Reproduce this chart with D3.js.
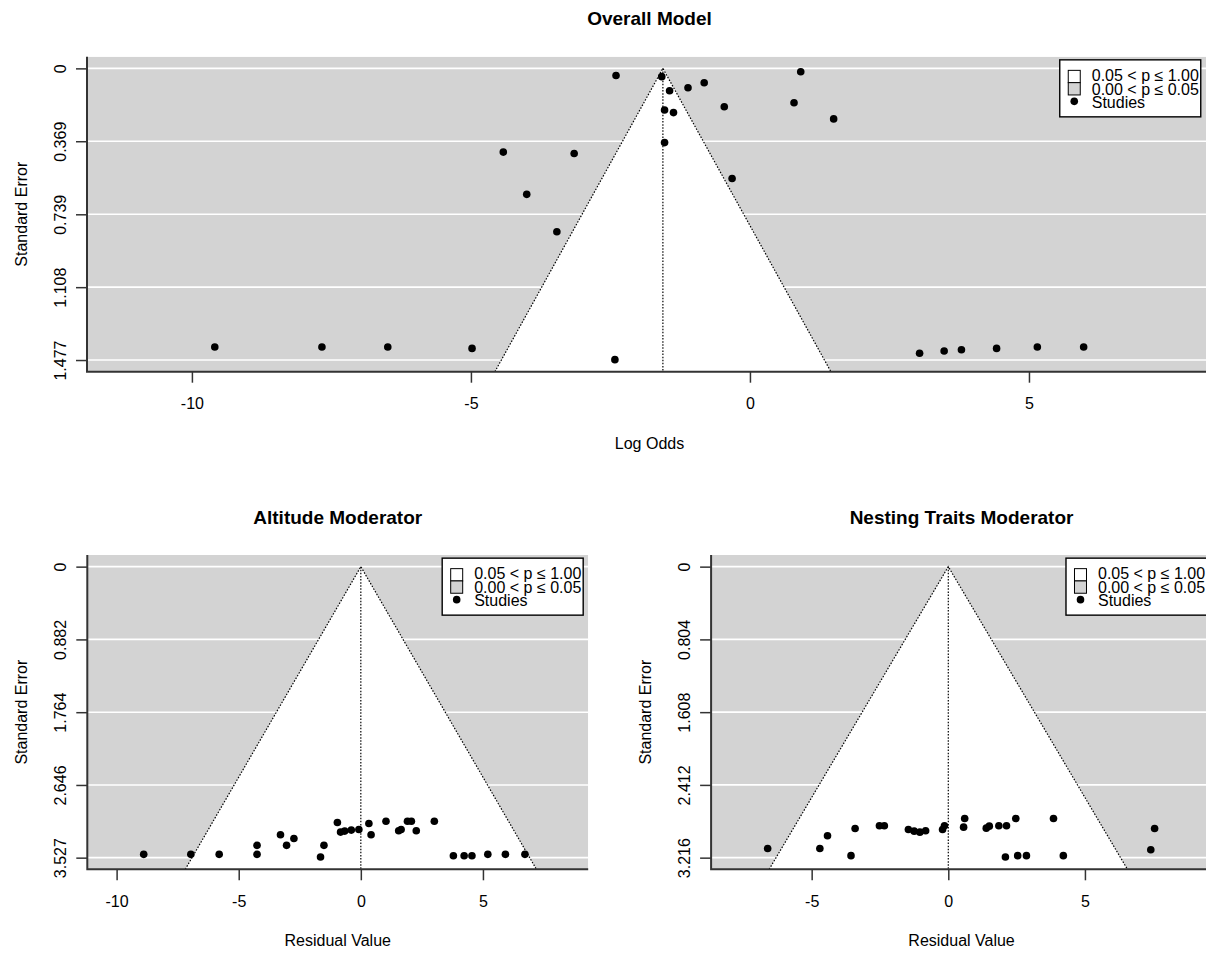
<!DOCTYPE html>
<html>
<head>
<meta charset="utf-8">
<script src="https://cdn.jsdelivr.net/npm/d3@7"></script>
<style>
    body { margin: 0; background: #fff; }
    text { font-family: "Liberation Sans", Arial, sans-serif; fill: #000; }
</style>
</head>
<body>
<div id="chart"></div>
<script>
//
// Funnel plots (overall model + two moderators)
//

// Overall model: log odds vs standard error
var overallLogOdds = [-9.59, -7.67, -6.49, -4.98, -4.42, -3.15, -4.00, -3.46, -2.40, -1.58,
                      -1.44, -1.11, -0.82, -1.53, -1.37, -0.46, -1.53, -0.32, 0.91, 0.79,
                      1.50, -2.42, 3.04, 3.48, 3.79, 4.42, 5.15, 5.98];
var overallSE = [1.411, 1.411, 1.411, 1.418, 0.424, 0.431, 0.638, 0.827, 0.036, 0.042,
                 0.113, 0.098, 0.073, 0.211, 0.224, 0.194, 0.376, 0.558, 0.017, 0.174,
                 0.256, 1.475, 1.443, 1.431, 1.425, 1.418, 1.411, 1.411];
var overallEstimate = -1.56;
var overallXTicks = [-10, -5, 0, 5];
var overallYTicks = [0, 0.369, 0.739, 1.108, 1.477];
var overallXLim = [-11.88, 8.28];

// Altitude moderator: residual value vs standard error
var altitudeResid = [-8.89, -6.96, -5.80, -4.25, -4.25, -3.29, -3.04, -2.74, -1.65, -1.51,
                     -0.96, -0.83, -0.66, -0.39, -0.08, 0.33, 0.42, 1.03, 1.55, 1.65,
                     1.91, 2.07, 2.27, 3.01, 3.79, 4.23, 4.55, 5.20, 5.92, 6.72];
var altitudeSE = [3.487, 3.487, 3.487, 3.487, 3.378, 3.250, 3.378, 3.294, 3.519, 3.378,
                  3.101, 3.217, 3.205, 3.193, 3.185, 3.113, 3.250, 3.085, 3.201, 3.185,
                  3.085, 3.085, 3.201, 3.085, 3.503, 3.503, 3.503, 3.487, 3.487, 3.487];
var altitudeXTicks = [-10, -5, 0, 5];
var altitudeYTicks = [0, 0.882, 1.764, 2.646, 3.527];
var altitudeXLim = [-11.20, 9.31];

// Nesting traits moderator: residual value vs standard error
var nestingResid = [-6.61, -4.70, -4.42, -3.56, -3.41, -2.52, -2.34, -1.46, -1.25, -1.04,
                    -0.83, -0.21, -0.14, 0.56, 0.60, 1.39, 1.50, 1.85, 2.13, 2.09,
                    2.47, 2.54, 2.86, 3.85, 4.21, 7.41, 7.55];
var nestingSE = [3.114, 3.114, 2.974, 3.194, 2.894, 2.864, 2.864, 2.905, 2.923, 2.934,
                 2.919, 2.905, 2.864, 2.879, 2.784, 2.890, 2.868, 2.864, 2.864, 3.209,
                 2.784, 3.194, 3.194, 2.784, 3.194, 3.128, 2.894];
var nestingXTicks = [-5, 0, 5];
var nestingYTicks = [0, 0.804, 1.608, 2.412, 3.216];
var nestingXLim = [-8.68, 9.65];

var legendLabels = ["0.05 < p \u2264 1.00", "0.00 < p \u2264 0.05", "Studies"];
var legendFills = ["#ffffff", "#d3d3d3"];

var zCrit = 1.96;
var width = 1206, height = 953;

var svg = d3.select("#chart")
    .append("svg")
    .attr("width", width)
    .attr("height", height);

svg.append("rect").attr("width", width).attr("height", height).attr("fill", "#fff");

function drawFunnel(id, opt) {
    var x0 = opt.box[0], y0 = opt.box[1], x1 = opt.box[2], y1 = opt.box[3];
    var yMax = d3.max(opt.yTicks);

    var x = d3.scaleLinear().domain(opt.xLim).range([x0, x1]);
    var y = d3.scaleLinear().domain([-0.04 * yMax, yMax * 1.04]).range([y0, y1]);
    var seBottom = y.domain()[1];

    var g = svg.append("g").attr("id", id);

    g.append("clipPath")
        .attr("id", id + "Clip")
        .append("rect")
        .attr("x", x0).attr("y", y0)
        .attr("width", x1 - x0).attr("height", y1 - y0);

    var plot = g.append("g").attr("clip-path", "url(#" + id + "Clip)");

    plot.append("rect")
        .attr("x", x0).attr("y", y0)
        .attr("width", x1 - x0).attr("height", y1 - y0)
        .attr("fill", "#d3d3d3");

    plot.selectAll(".hline")
        .data(opt.yTicks)
        .enter()
        .append("line")
        .attr("x1", x0).attr("x2", x1)
        .attr("y1", function (d) { return y(d); })
        .attr("y2", function (d) { return y(d); })
        .attr("stroke", "#fff")
        .attr("stroke-width", 1.6);

    // white region of the funnel (p > 0.05)
    var tri = [[opt.center - zCrit * seBottom, seBottom], [opt.center, 0], [opt.center + zCrit * seBottom, seBottom]];
    var line = d3.line()
        .x(function (d) { return x(d[0]); })
        .y(function (d) { return y(d[1]); });

    plot.append("path")
        .attr("d", line(tri) + "Z")
        .attr("fill", "#fff");

    plot.append("path")
        .attr("d", line(tri))
        .attr("fill", "none")
        .attr("stroke", "#000")
        .attr("stroke-width", 1.2)
        .attr("stroke-dasharray", "1.5,1.6");

    plot.append("path")
        .attr("d", line([[opt.center, 0], [opt.center, seBottom]]))
        .attr("fill", "none")
        .attr("stroke", "#000")
        .attr("stroke-width", 1.2)
        .attr("stroke-dasharray", "1.5,1.6");

    plot.selectAll(".study")
        .data(opt.xs)
        .enter()
        .append("circle")
        .attr("cx", function (d) { return x(d); })
        .attr("cy", function (d, i) { return y(opt.ses[i]); })
        .attr("r", 3.8)
        .attr("fill", "#000");

    // axes
    var yAxis = g.append("g")
        .attr("transform", "translate(" + x0 + ",0)")
        .call(d3.axisLeft(y).tickValues(opt.yTicks).tickSize(11).tickFormat(function (d) { return String(d); }));
    var xAxis = g.append("g")
        .attr("transform", "translate(0," + y1 + ")")
        .call(d3.axisBottom(x).tickValues(opt.xTicks).tickSize(11).tickFormat(function (d) { return String(d); }));

    g.selectAll(".domain").remove();
    g.selectAll(".tick line").attr("stroke", "#333").attr("stroke-width", 1.5);

    yAxis.selectAll("text")
        .attr("x", null).attr("dy", null)
        .attr("text-anchor", "middle")
        .attr("transform", "translate(-21.5,0) rotate(-90)")
        .style("font-size", "16px");

    xAxis.selectAll("text")
        .attr("y", 37.5).attr("dy", null)
        .style("font-size", "16px");

    g.append("path")
        .attr("d", "M" + x0 + "," + y0 + "V" + y1 + "H" + x1)
        .attr("fill", "none")
        .attr("stroke", "#333")
        .attr("stroke-width", 2);

    // labels
    g.append("text")
        .attr("x", (x0 + x1) / 2).attr("y", opt.titleY)
        .attr("text-anchor", "middle")
        .style("font-size", "19px")
        .style("font-weight", "bold")
        .text(opt.title);

    g.append("text")
        .attr("x", (x0 + x1) / 2).attr("y", y1 + 77)
        .attr("text-anchor", "middle")
        .style("font-size", "16px")
        .text(opt.xLabel);

    g.append("text")
        .attr("transform", "translate(" + (x0 - 60.5) + "," + ((y0 + y1) / 2) + ") rotate(-90)")
        .attr("text-anchor", "middle")
        .style("font-size", "16px")
        .text("Standard Error");

    // legend, top right with 1% inset
    var lw = 141, lh = 57;
    var lx = x1 - 0.01 * (x1 - x0) - lw;
    var ly = y0 + 0.01 * (y1 - y0);
    var legend = g.append("g").attr("class", "D3Legend").attr("transform", "translate(" + lx + "," + ly + ")");

    legend.append("rect")
        .attr("width", lw).attr("height", lh)
        .attr("fill", "#fff")
        .attr("stroke", "#000")
        .attr("stroke-width", 1.4);

    legend.selectAll(".swatch")
        .data(legendFills)
        .enter()
        .append("rect")
        .attr("x", 8.5)
        .attr("y", function (d, idx) { return 10.5 + idx * 12.3; })
        .attr("width", 12).attr("height", 12.3)
        .attr("fill", function (d) { return d; })
        .attr("stroke", "#000")
        .attr("stroke-width", 1);

    legend.append("circle")
        .attr("cx", 14.5).attr("cy", 41.5)
        .attr("r", 3.8)
        .attr("fill", "#000");

    legend.selectAll(".legText")
        .data(legendLabels)
        .enter()
        .append("text")
        .attr("x", 32)
        .attr("y", function (d, idx) { return 21.3 + idx * 13.4; })
        .style("font-size", "16px")
        .text(function (d) { return d; });
}

drawFunnel("overall", {
    title: "Overall Model", xLabel: "Log Odds", titleY: 25,
    xs: overallLogOdds, ses: overallSE, center: overallEstimate,
    xTicks: overallXTicks, yTicks: overallYTicks, xLim: overallXLim,
    box: [87, 56.7, 1212, 371.7]
});

drawFunnel("altitude", {
    title: "Altitude Moderator", xLabel: "Residual Value", titleY: 523.5,
    xs: altitudeResid, ses: altitudeSE, center: 0,
    xTicks: altitudeXTicks, yTicks: altitudeYTicks, xLim: altitudeXLim,
    box: [87.3, 555, 588.2, 869.3]
});

drawFunnel("nesting", {
    title: "Nesting Traits Moderator", xLabel: "Residual Value", titleY: 523.5,
    xs: nestingResid, ses: nestingSE, center: 0,
    xTicks: nestingXTicks, yTicks: nestingYTicks, xLim: nestingXLim,
    box: [711.1, 555, 1212, 869.3]
});
</script>
</body>
</html>
